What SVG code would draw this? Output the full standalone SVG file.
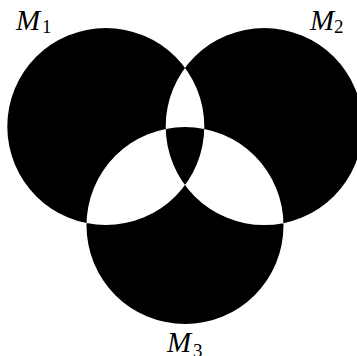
<svg xmlns="http://www.w3.org/2000/svg" width="357" height="356" viewBox="0 0 357 356">
<style>
.set{fill:#000;fill-rule:evenodd;stroke:none}
.lbl{font-family:"Liberation Serif","Times New Roman",serif;font-style:italic;font-size:29px;fill:#000}
.sub{font-family:"Liberation Serif","Times New Roman",serif;font-style:normal;font-size:19px;fill:#000}
</style>
<rect width="357" height="356" fill="#fff"/>
<g id="venn">
<path class="set" d="M7.3,126.5 a98.5,98.5 0 1,0 197,0 a98.5,98.5 0 1,0 -197,0Z M165.7,126.5 a98.5,98.5 0 1,0 197,0 a98.5,98.5 0 1,0 -197,0Z M86.5,225.5 a98.5,98.5 0 1,0 197,0 a98.5,98.5 0 1,0 -197,0Z"/>
</g>
<g id="M1"><text class="lbl" x="16" y="30">M</text><text class="sub" x="42" y="33">1</text></g>
<g id="M2"><text class="lbl" x="310" y="30">M</text><text class="sub" x="334" y="33">2</text></g>
<g id="M3"><text class="lbl" x="167" y="352">M</text><text class="sub" x="193" y="357">3</text></g>
</svg>
